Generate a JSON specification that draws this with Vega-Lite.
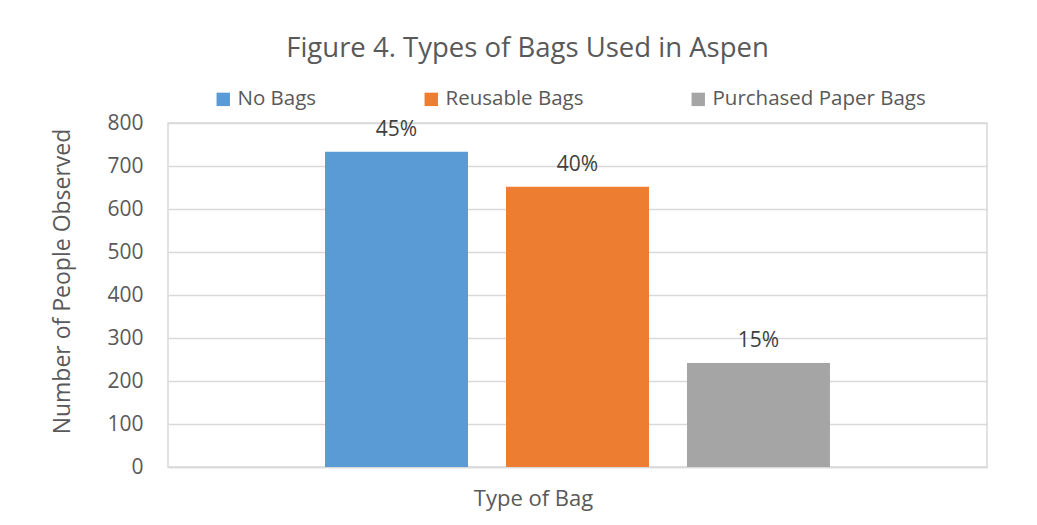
{
  "$schema": "https://vega.github.io/schema/vega-lite/v6.json",
  "width": 819,
  "height": 344,
  "autosize": {"type": "none"},
  "padding": {"left": 168, "top": 123, "right": 50, "bottom": 58},
  "background": "white",
  "title": {
    "text": "Figure 4. Types of Bags Used in Aspen",
    "font": "Open Sans",
    "fontSize": 27.5,
    "fontWeight": "normal",
    "color": "#595959",
    "anchor": "middle",
    "dx": -50,
    "offset": 27
  },
  "data": {
    "values": [
      {"series": "No Bags", "category": "Type of Bag", "count": 733, "label": "45%"},
      {"series": "Reusable Bags", "category": "Type of Bag", "count": 652, "label": "40%"},
      {"series": "Purchased Paper Bags", "category": "Type of Bag", "count": 242, "label": "15%"}
    ]
  },
  "encoding": {
    "x": {
      "field": "series",
      "type": "nominal",
      "sort": ["No Bags", "Reusable Bags", "Purchased Paper Bags"],
      "scale": {"paddingInner": 0.21, "paddingOuter": 0.8675},
      "axis": {
        "title": "Type of Bag",
        "labels": false,
        "ticks": false,
        "domain": true,
        "domainColor": "#d9d9d9",
        "domainWidth": 1.5,
        "titleFont": "Open Sans",
        "titleFontSize": 22,
        "titleFontWeight": "normal",
        "titleColor": "#595959",
        "titleX": 365,
        "titleY": 31,
        "titleAlign": "center",
        "titleBaseline": "middle"
      }
    },
    "y": {
      "field": "count",
      "type": "quantitative",
      "scale": {"domain": [0, 800], "nice": false},
      "axis": {
        "title": "Number of People Observed",
        "values": [0, 100, 200, 300, 400, 500, 600, 700, 800],
        "domain": false,
        "ticks": false,
        "labelPadding": 25,
        "labelFont": "Open Sans",
        "labelFontSize": 21,
        "labelColor": "#595959",
        "grid": true,
        "gridColor": "#d9d9d9",
        "gridWidth": 1.5,
        "titleFont": "Open Sans",
        "titleFontSize": 23,
        "titleFontWeight": "normal",
        "titleColor": "#595959",
        "titleX": -106,
        "titleY": 158,
        "titleAngle": -90,
        "titleAlign": "center",
        "titleBaseline": "middle"
      }
    }
  },
  "layer": [
    {
      "mark": {"type": "bar"},
      "encoding": {
        "color": {
          "field": "series",
          "type": "nominal",
          "sort": ["No Bags", "Reusable Bags", "Purchased Paper Bags"],
          "scale": {
            "domain": ["No Bags", "Reusable Bags", "Purchased Paper Bags"],
            "range": ["#5B9BD5", "#ED7D31", "#A5A5A5"]
          },
          "legend": {
            "title": null,
            "orient": "none",
            "direction": "horizontal",
            "legendX": 45,
            "legendY": -34,
            "symbolType": "square",
            "symbolSize": 180,
            "symbolStrokeWidth": 0,
            "labelFont": "Open Sans",
            "labelFontSize": 20.5,
            "labelColor": "#595959",
            "labelOffset": 4,
            "labelLimit": 0,
            "columnPadding": 104,
            "padding": 0
          }
        }
      }
    },
    {
      "mark": {
        "type": "text",
        "baseline": "bottom",
        "dy": -12,
        "font": "Open Sans",
        "fontSize": 21,
        "color": "#404040"
      },
      "encoding": {
        "text": {"field": "label", "type": "nominal"}
      }
    }
  ],
  "config": {
    "view": {"stroke": "#d9d9d9", "strokeWidth": 1.5}
  }
}
